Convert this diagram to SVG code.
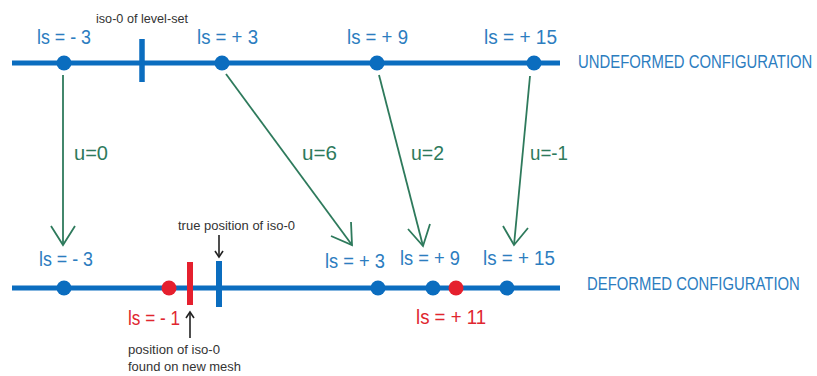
<svg xmlns="http://www.w3.org/2000/svg" width="817" height="376" viewBox="0 0 817 376">
<defs>
<style>
.bl{stroke:#0b6dbf;stroke-width:5;fill:none}
.dot{fill:#0b6dbf}
.rdot{fill:#e5202e}
.lab{font-family:"Liberation Sans",Arial,sans-serif;font-size:19.5px;fill:#2c7dbf}
.rlab{font-family:"Liberation Sans",Arial,sans-serif;font-size:19.5px;fill:#e0262f}
.ulab{font-family:"Liberation Sans",Arial,sans-serif;font-size:19.5px;fill:#2e7a5c}
.cfg{font-family:"Liberation Sans",Arial,sans-serif;font-size:17.5px;fill:#2c7dbf}
.note{font-family:"Liberation Sans",Arial,sans-serif;font-size:12.5px;fill:#333}
.arr{stroke:#2e7a5c;stroke-width:1.8;fill:none}
.karr{stroke:#222;stroke-width:1.6;fill:none}
</style>
</defs>
<rect width="817" height="376" fill="#fff"/>
<g id="undeformed">
<line class="bl" x1="12" y1="63" x2="560" y2="63"/>
<line x1="142" y1="39" x2="142" y2="82" stroke="#0b6dbf" stroke-width="5.5"/>
<circle class="dot" cx="64" cy="63" r="7.5"/>
<circle class="dot" cx="222" cy="63" r="7.5"/>
<circle class="dot" cx="377" cy="63" r="7.5"/>
<circle class="dot" cx="534" cy="63" r="7.5"/>
<text class="note" x="96" y="23" textLength="92" lengthAdjust="spacingAndGlyphs">iso-0 of level-set</text>
<text class="lab" x="37" y="44" textLength="54" lengthAdjust="spacingAndGlyphs">ls = - 3</text>
<text class="lab" x="197" y="44" textLength="61" lengthAdjust="spacingAndGlyphs">ls = + 3</text>
<text class="lab" x="347" y="44" textLength="61" lengthAdjust="spacingAndGlyphs">ls = + 9</text>
<text class="lab" x="484" y="44" textLength="73" lengthAdjust="spacingAndGlyphs">ls = + 15</text>
<text class="cfg" transform="translate(578,68) scale(0.85,1)">UNDEFORMED CONFIGURATION</text>
</g>
<g id="connectors">
<line class="arr" x1="63" y1="75" x2="63" y2="245"/>
<polyline class="arr" points="51,226 63,245 75,226"/>
<line class="arr" x1="226" y1="74" x2="352" y2="245"/>
<polyline class="arr" points="331,236 352,245 351,222"/>
<line class="arr" x1="379" y1="75" x2="423" y2="246"/>
<polyline class="arr" points="408,229 423,246 430,224"/>
<line class="arr" x1="530" y1="76" x2="514" y2="245"/>
<polyline class="arr" points="503,226 514,245 528,228"/>
<text class="ulab" x="74" y="160" textLength="34" lengthAdjust="spacingAndGlyphs">u=0</text>
<text class="ulab" x="302" y="160" textLength="35" lengthAdjust="spacingAndGlyphs">u=6</text>
<text class="ulab" x="411" y="160" textLength="33" lengthAdjust="spacingAndGlyphs">u=2</text>
<text class="ulab" x="530" y="160" textLength="38" lengthAdjust="spacingAndGlyphs">u=-1</text>
<line class="karr" x1="219" y1="235" x2="219" y2="257"/>
<polyline class="karr" points="215,251 219,257 223,251"/>
<line class="karr" x1="190" y1="338" x2="190" y2="312"/>
<polyline class="karr" points="186,318 190,312 194,318"/>
</g>
<g id="deformed">
<line class="bl" x1="12" y1="288" x2="560" y2="288"/>
<line x1="190" y1="262" x2="190" y2="305" stroke="#e5202e" stroke-width="6"/>
<line x1="219" y1="261" x2="219" y2="307" stroke="#0b6dbf" stroke-width="6"/>
<circle class="dot" cx="64" cy="288" r="7.5"/>
<circle class="rdot" cx="169" cy="288" r="7.5"/>
<circle class="dot" cx="378" cy="288" r="7.5"/>
<circle class="dot" cx="433" cy="288" r="7.5"/>
<circle class="rdot" cx="456" cy="288" r="7.5"/>
<circle class="dot" cx="507" cy="288" r="7.5"/>
<text class="note" x="178" y="230" textLength="117" lengthAdjust="spacingAndGlyphs">true position of iso-0</text>
<text class="lab" x="39" y="266" textLength="54" lengthAdjust="spacingAndGlyphs">ls = - 3</text>
<text class="lab" x="325" y="268" textLength="60" lengthAdjust="spacingAndGlyphs">ls = + 3</text>
<text class="lab" x="400" y="265" textLength="60" lengthAdjust="spacingAndGlyphs">ls = + 9</text>
<text class="lab" x="483" y="265" textLength="72" lengthAdjust="spacingAndGlyphs">ls = + 15</text>
<text class="rlab" x="128" y="325" textLength="52" lengthAdjust="spacingAndGlyphs">ls = - 1</text>
<text class="rlab" x="416" y="324" textLength="70" lengthAdjust="spacingAndGlyphs">ls = + 11</text>
<text class="note" x="128" y="354" textLength="92" lengthAdjust="spacingAndGlyphs">position of iso-0</text>
<text class="note" x="128" y="371" textLength="113" lengthAdjust="spacingAndGlyphs">found on new mesh</text>
<text class="cfg" transform="translate(587,290) scale(0.85,1)">DEFORMED CONFIGURATION</text>
</g>
</svg>
